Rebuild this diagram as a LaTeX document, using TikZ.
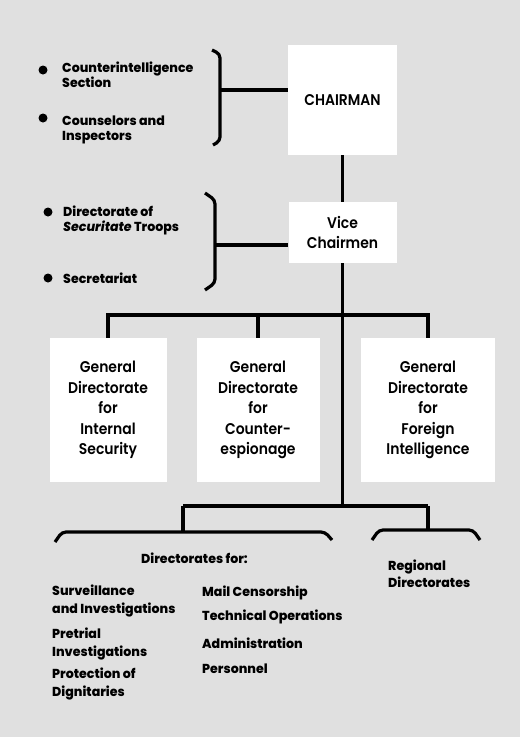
\documentclass[tikz,border=0pt]{standalone}
\usepackage{fontspec}
\setmainfont{Poppins}
\newfontfamily\boxfont{Poppins SemiBold}[FakeStretch=0.9]
\newfontfamily\heavyfont{Poppins ExtraBold}[FakeStretch=0.97,ItalicFont=Poppins ExtraBold Italic]
\usetikzlibrary{calc}
\tikzset{
  box/.style={fill=white, inner sep=0pt, align=center, font=\boxfont\fontsize{15.5}{20.5}\selectfont},
  heavy/.style={inner sep=0pt, align=left, anchor=west, font=\heavyfont\fontsize{13}{15}\selectfont},
  heavysm/.style={inner sep=0pt, align=left, anchor=west, font=\heavyfont\fontsize{13}{17.5}\selectfont},
  conn/.style={line width=3.2pt},
  brk/.style={line width=3.2pt, rounded corners=4pt},
  bul/.style={circle, fill=black, inner sep=0pt, minimum size=9pt}
}
\begin{document}
\begin{tikzpicture}[x=1pt,y=-1pt]
\useasboundingbox (0,0) rectangle (520,737);
\fill[black!12] (0,0) rectangle (520,737);
% main boxes
\node[box, minimum width=109pt, minimum height=110pt] (chair) at (342.5,100) {CHAIRMAN};
\node[box, minimum width=108pt, minimum height=61pt] (vice) at (342.5,232.5) {Vice\\Chairmen};
\node[box, minimum width=117pt, minimum height=144pt] (gd1) at (108,410) {General\\Directorate\\for\\Internal\\Security};
\node[box, minimum width=123pt, minimum height=144pt] (gd2) at (258,410) {General\\Directorate\\for\\Counter-\\espionage};
\node[box, minimum width=134pt, minimum height=144pt] (gd3) at (428,410) {General\\Directorate\\for\\Foreign\\Intelligence};
% top-left items
\node[bul] (bu1) at (43,70) {};
\node[heavy] (ci) at (62,74.5) {Counterintelligence\\Section};
\node[bul] (bu2) at (43,118) {};
\node[heavy] (cs) at (62,129.5) {Counselors and\\Inspectors};
\node[bul] (bu3) at (48,212) {};
\node[heavy] (dst) at (63,220) {Directorate of\\\textit{Securitate} Troops};
\node[bul] (bu4) at (48,278) {};
\node[heavy] (sec) at (63,278) {Secretariat};
% brackets top
\draw[brk] (212,50) -- (220,54) -- (220,141) -- (213,145);
\coordinate (b1) at (220,90);
\draw[conn] (b1) -- (b1 -| chair.west);
\draw[brk] (205,193) -- (215,200) -- (215,283) -- (205,290);
\coordinate (b2) at (215,245);
\draw[conn] (b2) -- (b2 -| vice.west);
% trunk
\draw[conn] (chair.south) -- (vice.north);
\coordinate (j1) at (342.5,315);
\coordinate (j2) at (342.5,506);
\draw[conn] (vice.south) -- (j2);
\draw[conn] (gd1.north) -- (gd1.north |- j1) -- (gd3.north |- j1) -- (gd3.north);
\draw[conn] (gd2.north) -- (gd2.north |- j1);
% bottom
\coordinate (l1) at (183,506);
\coordinate (r1) at (428,506);
\draw[conn] (l1) -- (r1);
\coordinate (lb) at (183,532);
\coordinate (rb) at (428,530);
\draw[conn] (l1) -- (lb);
\draw[conn] (r1) -- (rb);
\draw[brk] (55,542) -- (62,532) -- (325,532) -- (332,540);
\draw[brk] (372,540) -- (379,530) -- (473,530) -- (480,540);
\node[heavysm] (dirs) at (141,558) {Directorates for:};
\node[heavysm] (sv) at (52,601) {Surveillance\\and Investigations};
\node[heavysm] (pt) at (52,644) {Pretrial\\Investigations};
\node[heavysm] (pd) at (52,684) {Protection of\\Dignitaries};
\node[heavysm] (mc) at (202,593) {Mail Censorship};
\node[heavysm] (to) at (202,617) {Technical Operations};
\node[heavysm] (ad) at (202,643) {Administration};
\node[heavysm] (pe) at (202,669) {Personnel};
\node[heavysm] (rd) at (388,573.5) {Regional\\Directorates};
\end{tikzpicture}
\end{document}
